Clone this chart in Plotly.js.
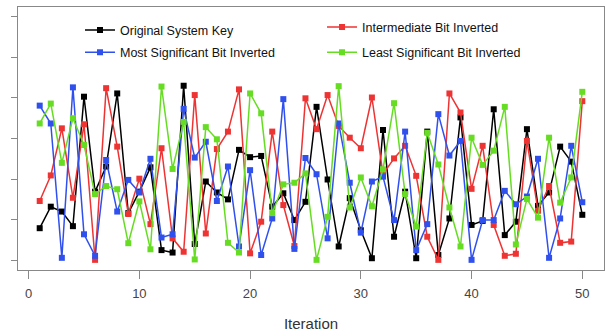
<!DOCTYPE html>
<html>
<head>
<meta charset="utf-8">
<script src="https://cdn.plot.ly/plotly-3.0.1.min.js"></script>
<style>
html,body{margin:0;padding:0;background:#fff;}
#chart{width:605px;height:336px;}
</style>
</head>
<body>
<div id="chart"></div>
<script>
// Iteration index 1..50
const iterations = Array.from({length: 50}, (_, k) => k + 1);

const originalKey = [0.79,1.32,1.20,0.84,4.03,1.69,2.31,4.11,1.16,1.69,
  2.29,0.25,0.19,4.30,0.40,1.94,1.67,1.50,2.72,2.54,
  2.57,1.32,1.65,0.99,1.44,3.78,1.99,0.34,1.53,0.74,
  0.05,3.21,0.58,1.69,0.05,3.17,0.13,1.03,3.52,0.87,
  0.97,3.72,0.62,0.95,3.23,1.34,1.67,2.80,2.43,1.12];

const intermediateInv = [1.46,2.09,3.25,1.54,3.35,0.01,4.24,2.80,1.14,2.01,
  0.89,2.76,0.54,0.21,4.07,0.66,2.74,3.17,4.21,0.17,
  0.95,3.17,1.36,0.35,3.99,3.23,4.07,3.31,3.02,2.76,
  4.01,2.12,2.51,2.82,2.08,0.58,0.01,4.11,3.64,1.76,
  2.82,0.87,0.11,0.16,2.94,1.22,1.83,0.43,0.46,3.92];

const mostSigInv = [3.81,3.37,0.06,4.26,0.64,0.11,2.47,1.20,1.98,1.67,
  2.50,0.56,0.64,3.73,2.53,2.92,1.46,2.31,0.34,2.22,
  0.13,1.03,3.97,0.28,2.52,2.12,0.54,3.37,1.91,0.68,
  1.94,2.06,0.99,3.17,0.25,0.89,3.60,2.58,2.94,0.01,
  0.99,0.99,1.71,1.38,1.57,2.50,0.06,1.03,2.82,1.43];

const leastSigInv = [3.37,3.86,2.40,3.50,2.84,1.63,1.83,1.75,0.42,1.45,
  0.27,4.28,2.25,3.41,0.02,3.28,2.98,0.43,0.19,4.11,
  3.62,1.16,1.87,1.91,2.14,0.01,1.07,4.29,1.30,2.04,
  1.33,2.24,3.87,1.63,0.83,3.14,2.36,1.30,0.34,3.02,
  2.35,2.70,3.78,0.39,1.51,1.05,3.02,1.42,2.04,4.15];

const xTicks = [0,10,20,30,40,50];
const yTicks = [0,1,2,3,4,5,6];

function series(name, y, color, legend, rank) {
  return {
    x: iterations, y: y, name: name, type: 'scatter', mode: 'lines+markers',
    line: {color: color, width: 1.5},
    marker: {symbol: 'square', size: 6, color: color, line: {width: 0}},
    legend: legend, legendrank: rank, legendgroup: name
  };
}

const data = [
  series('Original System Key', originalKey, '#000000', 'legend', 1),
  series('Intermediate Bit Inverted', intermediateInv, '#EE3333', 'legend2', 1),
  series('Most Significant Bit Inverted', mostSigInv, '#3050EE', 'legend', 2),
  series('Least Significant Bit Inverted', leastSigInv, '#66DD22', 'legend2', 2)
];

const narrow = '"Liberation Sans Narrow", "Liberation Sans", Arial, sans-serif';
const legendFont = {family: narrow, size: 12.5, color: '#111'};

const layout = {
  width: 605, height: 336,
  margin: {l: 18, r: 1, t: 7, b: 66},
  paper_bgcolor: '#ffffff', plot_bgcolor: '#ffffff',
  showlegend: true,
  font: {family: narrow, color: '#333'},
  xaxis: {
    range: [-0.96, 51.96], tickvals: xTicks, ticktext: xTicks.map(String),
    ticks: 'outside', ticklen: 8, tickcolor: '#888', tickwidth: 1,
    ticklabelstandoff: 3,
    showline: true, mirror: true, linecolor: '#888', linewidth: 1,
    showgrid: false, zeroline: false,
    tickfont: {family: narrow, size: 13, color: '#444'},
    title: {text: 'Iteration', font: {family: narrow, size: 15, color: '#333'}, standoff: 18}
  },
  yaxis: {
    range: [-0.24, 6.24], tickvals: yTicks, showticklabels: false,
    ticks: 'outside', ticklen: 6, tickcolor: '#888', tickwidth: 1,
    showline: true, mirror: true, linecolor: '#888', linewidth: 1,
    showgrid: false, zeroline: false
  },
  legend: {
    x: 0.1058, y: 0.968, xanchor: 'left', yanchor: 'top',
    bgcolor: 'rgba(0,0,0,0)', font: legendFont, tracegroupgap: 3
  },
  legend2: {
    x: 0.5188, y: 0.98, xanchor: 'left', yanchor: 'top',
    bgcolor: 'rgba(0,0,0,0)', font: legendFont, tracegroupgap: 6
  }
};

Plotly.newPlot('chart', data, layout, {displayModeBar: false, staticPlot: true});
</script>
</body>
</html>
